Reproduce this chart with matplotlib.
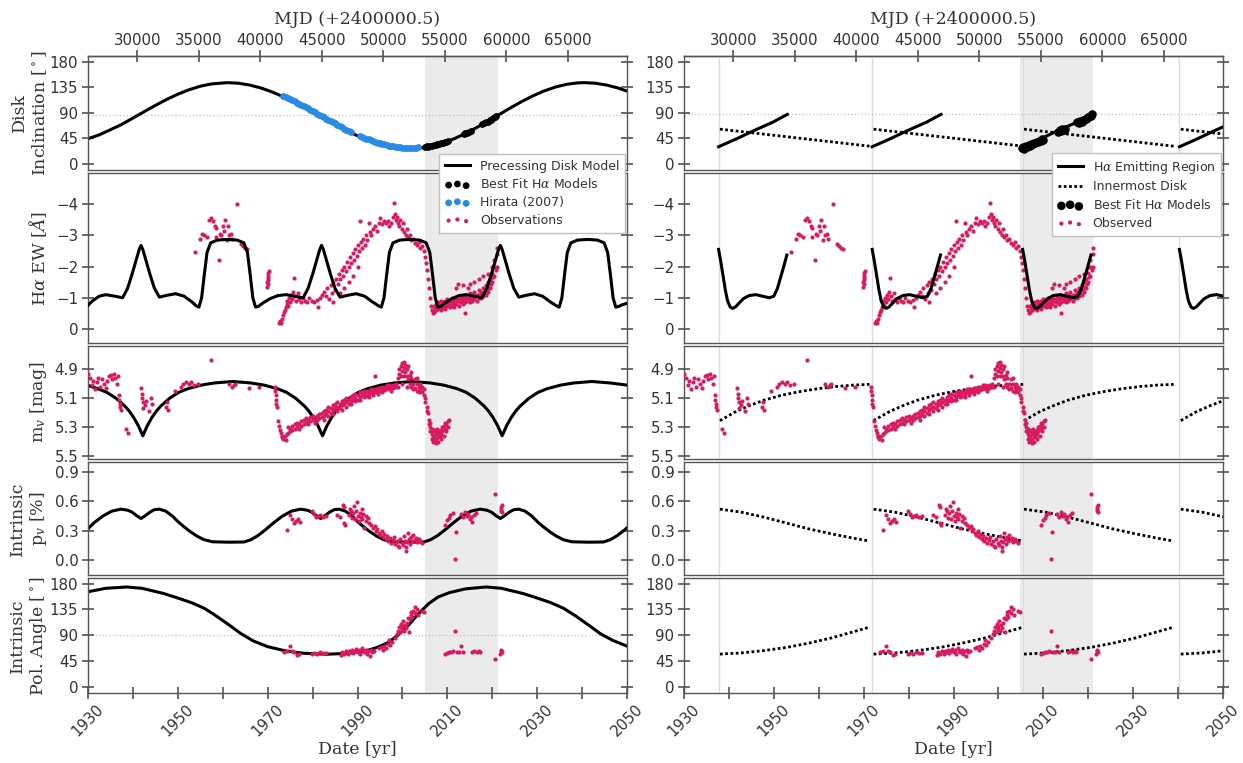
import matplotlib
matplotlib.use("Agg")
import matplotlib.pyplot as plt
from matplotlib.ticker import FixedLocator

plt.rcParams.update({
    "font.family": ["DejaVu Sans"],
    "mathtext.fontset": "dejavuserif",
    "axes.linewidth": 1.0,
    "axes.edgecolor": "#555555",
    "xtick.color": "#444444",
    "ytick.color": "#444444",
    "xtick.labelcolor": "#333333",
    "ytick.labelcolor": "#333333",
})

# ---------------------------------------------------------------- data
# Precessing disk model (left column)
incl_yr = [1930, 1932.5, 1935, 1937.5, 1940, 1942.5, 1945, 1947.5, 1950, 1952.5, 1955, 1957.5, 1961,
           1963.5, 1966, 1968.5, 1971, 1973.5, 1976, 1978.5, 1981, 1983.5, 1986, 1988.5, 1991, 1993.5,
           1996, 1998.5, 2001.8, 2004, 2006.5, 2009, 2011.5, 2014, 2016.5, 2019, 2021.5, 2024, 2026.5,
           2029, 2031.5, 2034, 2036.5, 2039, 2040.5, 2043, 2045.5, 2048, 2050]
incl_deg = [44, 51, 60, 69.3, 80.5, 91.8, 102.9, 113.3, 122.7, 130.5, 136.7, 140.8, 143,
            142.0, 138.7, 133.6, 126.6, 118.1, 108.4, 97.9, 86.8, 75.6, 64.9, 54.8, 45.9, 38.4,
            32.7, 28.9, 27.0, 27.9, 31.2, 36.6, 44.1, 53.2, 63.7, 74.9, 86.6, 98.3, 109.4,
            119.5, 128.2, 135.1, 140.0, 142.6, 143.0, 142.0, 138.7, 133.6, 128.2]

ew_yr = [1930.0, 1931.0, 1932.5, 1934.0, 1936.0, 1937.7,
         1938.8, 1939.8, 1940.8, 1941.4, 1941.8, 1942.2, 1942.8, 1943.8, 1944.8, 1945.9,
         1947.6, 1949.5, 1951.4, 1953.2, 1954.1,
         1954.7, 1955.3, 1955.9, 1956.5, 1957.3, 1958.8, 1961.0, 1963.2, 1964.7, 1965.5, 1966.1, 1966.7, 1967.3, 1967.9,
         1968.8, 1970.5, 1972.3, 1974.1, 1976.0, 1977.9,
         1979.0, 1980.0, 1981.0, 1981.6, 1982.0, 1982.4, 1983.0, 1984.0, 1985.0, 1986.1,
         1987.8, 1989.7, 1991.6, 1993.4, 1994.7,
         1995.3, 1995.9, 1996.5, 1997.1, 1997.9, 1999.4, 2001.6, 2003.8, 2005.3, 2006.1, 2006.7, 2007.3, 2007.9, 2008.5,
         2009.4, 2011.0, 2012.6, 2014.2, 2016.0, 2017.7,
         2018.8, 2019.8, 2020.8, 2021.4, 2021.8, 2022.2, 2022.8, 2023.8, 2024.8, 2025.9,
         2027.6, 2029.4, 2031.2, 2033.0, 2034.3,
         2034.9, 2035.5, 2036.1, 2036.7, 2037.5, 2039.0, 2041.2, 2043.4, 2044.9, 2045.7, 2046.3, 2046.9, 2047.5, 2048.1,
         2049.0, 2050.0]
ew_val = [-0.76, -0.90, -1.05, -1.10, -1.05, -1.00,
          -1.3, -1.75, -2.25, -2.55, -2.68, -2.55, -2.25, -1.75, -1.3, -1.02,
          -1.08, -1.13, -1.05, -0.86, -0.74,
          -0.70, -1.0, -1.75, -2.45, -2.76, -2.85, -2.87, -2.85, -2.76, -2.45, -1.75, -1.0, -0.70, -0.72,
          -0.82, -0.97, -1.07, -1.10, -1.05, -1.00,
          -1.3, -1.75, -2.25, -2.55, -2.68, -2.55, -2.25, -1.75, -1.3, -1.02,
          -1.08, -1.13, -1.05, -0.86, -0.74,
          -0.70, -1.0, -1.75, -2.45, -2.76, -2.85, -2.87, -2.85, -2.76, -2.45, -1.75, -1.0, -0.70, -0.72,
          -0.82, -0.97, -1.07, -1.10, -1.05, -1.00,
          -1.3, -1.75, -2.25, -2.55, -2.68, -2.55, -2.25, -1.75, -1.3, -1.02,
          -1.08, -1.13, -1.05, -0.86, -0.74,
          -0.70, -1.0, -1.75, -2.45, -2.76, -2.85, -2.87, -2.85, -2.76, -2.45, -1.75, -1.0, -0.70, -0.72,
          -0.78, -0.82]

mv_yr = [1930, 1932.2, 1934.2, 1936.2, 1938.2, 1939.2, 1940.2, 1941.2, 1941.7, 1942.2, 1942.7, 1943.2,
         1944.2, 1945.2, 1946.2, 1948.2, 1950.2, 1952.2, 1955.2, 1958.2, 1962.2, 1966.2, 1969.2, 1972.2,
         1974.2, 1976.2, 1978.2, 1979.2, 1980.2, 1981.2, 1981.7, 1982.2, 1982.7, 1983.2, 1984.2, 1985.2,
         1986.2, 1988.2, 1990.2, 1992.2, 1995.2, 1998.2, 2002.2, 2006.2, 2009.2, 2012.2, 2014.2, 2016.2,
         2018.2, 2019.2, 2020.2, 2021.2, 2021.7, 2022.2, 2022.7, 2023.2, 2024.2, 2025.2, 2026.2, 2028.2,
         2030.2, 2032.2, 2035.2, 2038.2, 2042.2, 2046.2, 2050.0]
mv_mag = [5.012, 5.035, 5.06, 5.10, 5.155, 5.19, 5.235, 5.29, 5.325, 5.36, 5.325, 5.29,
          5.235, 5.19, 5.155, 5.10, 5.06, 5.035, 5.01, 4.995, 4.985, 4.995, 5.01, 5.035,
          5.06, 5.10, 5.155, 5.19, 5.235, 5.29, 5.325, 5.36, 5.325, 5.29, 5.235, 5.19,
          5.155, 5.10, 5.06, 5.035, 5.01, 4.995, 4.985, 4.995, 5.01, 5.035, 5.06, 5.10,
          5.155, 5.19, 5.235, 5.29, 5.325, 5.36, 5.325, 5.29, 5.235, 5.19, 5.155, 5.10,
          5.06, 5.035, 5.01, 4.995, 4.985, 4.995, 5.01]

pv_yr = [1930.0, 1931.3, 1933.3, 1935.3, 1937.3, 1938.8, 1939.8, 1940.8, 1941.8, 1942.8, 1943.8, 1944.8,
         1945.9, 1947.3, 1948.8, 1950.1, 1951.4, 1952.8, 1954.3, 1955.8, 1957.7, 1961.3, 1964.8, 1966.3,
         1967.8, 1969.5, 1971.3, 1973.3, 1975.3, 1977.3, 1978.8, 1979.8, 1980.8, 1981.8, 1982.8, 1983.8,
         1984.8, 1985.9, 1987.3, 1988.8, 1990.1, 1991.4, 1992.8, 1994.3, 1995.8, 1997.7, 2001.3, 2004.8,
         2006.3, 2007.8, 2009.5, 2011.3, 2013.3, 2015.3, 2017.3, 2018.8, 2019.8, 2020.8, 2021.8, 2022.8,
         2023.8, 2024.8, 2025.9, 2027.3, 2028.8, 2030.1, 2031.4, 2032.8, 2034.3, 2035.8, 2037.7, 2041.3,
         2044.8, 2046.3, 2047.8, 2049.5, 2050.0]
pv_pct = [0.32, 0.38, 0.45, 0.50, 0.52, 0.51, 0.49, 0.455, 0.425, 0.455, 0.49, 0.515,
          0.52, 0.50, 0.45, 0.39, 0.34, 0.29, 0.245, 0.21, 0.188, 0.184, 0.186, 0.21,
          0.25, 0.31, 0.38, 0.45, 0.50, 0.52, 0.51, 0.49, 0.455, 0.425, 0.455, 0.49,
          0.515, 0.52, 0.50, 0.45, 0.39, 0.34, 0.29, 0.245, 0.21, 0.188, 0.184, 0.186,
          0.21, 0.25, 0.31, 0.38, 0.45, 0.50, 0.52, 0.51, 0.49, 0.455, 0.425, 0.455,
          0.49, 0.515, 0.52, 0.50, 0.45, 0.39, 0.34, 0.29, 0.245, 0.21, 0.188, 0.184,
          0.186, 0.21, 0.25, 0.31, 0.33]

pa_yr = [1930, 1934, 1938.6, 1942, 1946.8, 1950, 1953, 1955.9, 1958.5, 1961.4, 1964, 1966.8, 1970, 1974,
         1978, 1983.2, 1988, 1992.3, 1994.5, 1996.8, 1999, 2001.4, 2003.5, 2005.9, 2008, 2010.5, 2014,
         2018.6, 2022, 2026.8, 2030, 2033, 2035.9, 2038.5, 2041.4, 2044, 2046.8, 2050]
pa_deg = [166, 172, 174.3, 172, 163, 155, 147, 137, 124, 108, 93, 80, 70, 62.5,
          58.5, 56.7, 58.5, 63.6, 69, 77, 90, 108, 127, 145.6, 157, 164.5, 171,
          174.3, 172, 163, 155, 147, 137, 124, 108, 93, 81, 71]

# Best-fit H-alpha disk models and Hirata (2007) inclinations
fit_left_yr = [2005.0, 2005.4, 2005.8, 2006.2, 2006.6, 2007.0, 2007.4, 2007.8, 2008.2, 2008.6, 2009.0,
               2009.4, 2009.8, 2010.2, 2013.6, 2014.0, 2014.4, 2014.8, 2015.2, 2017.8, 2018.2, 2018.6,
               2019.0, 2019.4, 2019.8, 2020.2, 2020.6, 2020.9]
fit_left_deg = [29.0, 30.5, 29.5, 31.5, 30.8, 33.0, 32.2, 34.5, 34.0, 36.2, 36.0,
                38.3, 38.0, 40.5, 52.5, 54.0, 54.5, 56.8, 58.0, 70.0, 71.0, 73.5,
                74.5, 76.8, 78.0, 80.5, 82.0, 84.5]
hirata_yr = [1973.5, 1974.0, 1974.5, 1975.0, 1975.5, 1976.0, 1976.5, 1977.0, 1977.5, 1978.0, 1978.5,
             1979.0, 1979.5, 1980.0, 1980.5, 1981.0, 1981.5, 1982.0, 1982.5, 1983.0, 1983.5, 1984.0,
             1984.5, 1985.0, 1985.5, 1986.0, 1986.5, 1987.0, 1987.5, 1988.0, 1988.5,
             1990.5, 1991.0, 1991.5, 1992.0, 1992.5, 1993.0, 1993.5, 1994.0, 1994.5, 1995.0, 1995.5,
             1996.0, 1996.5, 1997.0, 1997.5, 1998.0, 1998.5, 1999.0, 1999.5, 2000.0, 2000.5, 2001.0,
             2001.5, 2002.0, 2002.5, 2003.0, 2003.5]
hirata_deg = [120, 118, 116, 114, 112, 110, 108, 106, 104, 102, 100,
              97.5, 95, 93, 91, 88.5, 86, 84, 82, 79.5, 77, 75,
              73, 71, 69, 66.5, 64, 62, 60, 58, 56,
              49, 47.5, 46, 44.5, 43, 41.5, 40, 38.5, 37, 36, 35,
              34, 33, 32, 31, 30.5, 30, 29.5, 29, 28.5, 28, 28,
              28, 28, 28, 28.5, 29]

# Cycle-by-cycle model (right column): cycle start epochs and per-cycle shapes
cycle_start = [1937.7, 1971.9, 2005.4, 2040.3]
ramp_off = [0, 4, 8, 12, 15.3]
ramp_deg = [30, 44, 59, 73, 87]
inner_off = [0.3, 17, 33.6]
inner_deg = [61, 46, 31]
ewc_off = [0, 0.5, 1.0, 1.5, 2.0, 2.6, 3.1, 3.7, 4.5, 5.5, 6.8, 8.3, 9.8, 11.3, 12.3, 13.1, 13.8, 14.5, 15.2]
ewc_val = [-2.55, -2.15, -1.7, -1.25, -0.9, -0.7, -0.66, -0.7, -0.82, -0.97, -1.07, -1.10, -1.05,
           -1.0, -1.05, -1.3, -1.65, -2.0, -2.37]
mvc_off = [0.3, 2, 4, 7, 10, 14, 18, 22, 26, 30, 33.6]
mvc_mag = [5.255, 5.225, 5.19, 5.15, 5.115, 5.08, 5.055, 5.035, 5.02, 5.01, 5.005]
pvc_off = [0.3, 5, 10, 15, 20, 25, 30, 33.6]
pvc_pct = [0.52, 0.49, 0.44, 0.38, 0.32, 0.27, 0.225, 0.195]
pac_off = [0.3, 5, 10, 15, 20, 25, 30, 33.6]
pac_deg = [57, 59, 63, 68.5, 76, 85, 96, 104]

fit_right_yr = [2005.2, 2005.5, 2005.8, 2006.1, 2006.4, 2006.7, 2007.0, 2007.3, 2007.6, 2007.9, 2008.2,
                2008.5, 2008.8, 2009.1, 2009.4, 2009.7, 2010.0, 2013.3, 2013.6, 2013.9, 2014.2, 2014.5,
                2014.8, 2017.6, 2017.9, 2018.2, 2018.5, 2018.8, 2019.1, 2019.4, 2019.7, 2020.0, 2020.3,
                2020.6, 2020.9]
fit_right_deg = [27, 29, 26, 31, 29, 33, 31, 35, 34, 37, 36,
                 39, 38, 41, 40, 43, 42, 56, 59, 58, 61, 60,
                 62, 73, 72, 75, 74, 77, 78, 79, 81, 82, 84,
                 85, 87]

# Observations
ew_obs_yr = [1953.9, 1955.0, 1955.3, 1955.9, 1956.5, 1957.0, 1957.4, 1957.8, 1958.2, 1958.4, 1958.6, 1959.1,
             1959.3, 1959.6, 1960.0, 1960.3, 1960.6, 1960.9, 1961.2, 1961.5, 1961.8, 1962.1, 1963.2, 1964.0,
             1964.4, 1964.9, 1965.4,
             1969.9, 1969.9, 1970.0, 1970.0, 1970.0, 1970.1, 1970.1, 1970.2,
             1972.5, 1972.8, 1973.0, 1973.2, 1973.4, 1973.6, 1973.8, 1974.0, 1974.2, 1974.4, 1974.6, 1974.8,
             1975.0, 1975.2, 1975.4, 1975.6, 1975.9, 1976.1, 1976.4, 1976.7, 1977.0, 1977.4, 1977.8, 1978.3,
             1978.8, 1979.3, 1979.8, 1980.4, 1981.0, 1981.2, 1981.7, 1982.2, 1982.6, 1983.0, 1983.3, 1983.6,
             1984.0, 1984.3, 1984.6, 1985.0, 1984.5, 1986.0, 1987.0, 1988.0, 1989.0, 1990.0,
             1985.3, 1985.6, 1985.9, 1986.2, 1986.5, 1986.8, 1987.1, 1987.4, 1987.7, 1988.0, 1988.3, 1988.6,
             1988.9, 1989.2, 1989.5, 1989.8, 1990.1, 1990.4, 1990.5, 1990.7, 1991.0, 1991.3, 1991.6, 1991.9,
             1992.2, 1992.5, 1992.8, 1993.1, 1993.5, 1993.9, 1994.3, 1994.7, 1995.1, 1995.5, 1995.9, 1996.3,
             1996.7, 1997.1, 1997.5, 1997.9, 1998.2, 1998.4, 1998.6, 1998.8, 1999.0, 1999.2, 1999.5, 1999.8,
             2000.1, 2000.4, 2000.7, 2001.0, 2001.3, 2001.6, 2002.0, 2002.4, 2002.8, 2003.2, 2003.6, 2004.0,
             2004.4, 2004.8, 2005.1, 2005.3, 2005.5, 2005.7, 2005.9, 2006.1, 2006.3, 2006.5, 2006.7,
             2007.0, 2007.0, 2007.5, 2007.5, 2007.5, 2008.0, 2008.0, 2008.5, 2008.5, 2008.5, 2009.0, 2009.0,
             2009.5, 2009.5, 2009.5, 2010.0, 2010.0, 2010.5, 2010.5, 2010.5, 2011.0, 2011.0, 2011.5, 2011.5,
             2011.5, 2012.0, 2012.0, 2012.0, 2012.3, 2012.5, 2012.5, 2013.0, 2013.0, 2013.5, 2013.5, 2013.5,
             2014.0, 2014.0, 2014.0, 2014.5, 2014.5, 2014.5, 2015.0, 2015.0, 2015.0, 2015.5, 2015.5, 2016.0,
             2016.0, 2016.0, 2016.5, 2016.5, 2017.0, 2017.0, 2017.0, 2017.5, 2017.5, 2018.0, 2018.0, 2018.0,
             2018.5, 2018.5, 2019.0, 2019.0, 2019.0, 2019.5, 2019.5, 2020.0, 2020.0, 2020.0, 2020.5, 2020.5,
             2020.5, 2021.0, 2021.0, 2021.0,
             2007.25, 2007.75, 2008.25, 2008.75, 2009.25, 2009.75, 2010.25, 2010.75, 2011.25, 2011.75,
             2012.25, 2012.75, 2013.25, 2013.75, 2014.25, 2014.75, 2015.25, 2015.75, 2016.25, 2016.75,
             2017.25, 2017.75, 2018.25, 2018.75, 2019.25, 2019.75, 2020.25, 2020.75]
ew_obs_val = [-2.46, -2.90, -3.05, -3.00, -2.95, -3.50, -3.55, -3.45, -3.30, -2.95, -3.25, -2.22,
              -3.05, -3.00, -3.30, -3.15, -3.50, -2.85, -3.30, -3.00, -3.05, -2.90, -4.00, -2.72,
              -2.66, -2.60, -2.56,
              -1.35, -1.50, -1.45, -1.58, -1.70, -1.63, -1.78, -1.86,
              -0.20, -0.25, -0.20, -0.33, -0.45, -0.55, -0.62, -0.70, -0.80, -0.90, -0.75, -1.00,
              -0.85, -1.10, -0.95, -1.20, -1.62, -1.05, -0.90, -1.15, -0.95, -0.85, -1.00, -0.90,
              -0.88, -1.00, -0.90, -0.85, -0.92, -0.70, -1.00, -1.10, -1.20, -1.05, -1.30, -0.95,
              -1.40, -1.15, -1.50, -1.25, -0.85, -1.15, -1.30, -1.50, -1.70, -2.00,
              -1.60, -1.45, -1.75, -1.60, -1.90, -1.70, -2.00, -1.85, -2.15, -2.00, -2.30, -2.10,
              -2.45, -2.20, -2.55, -2.35, -2.70, -2.50, -3.45, -2.80, -2.60, -2.90, -2.70, -3.00,
              -2.85, -3.40, -3.10, -3.00, -3.20, -3.30, -3.15, -3.40, -3.55, -3.35, -3.45, -3.40,
              -3.45, -3.30, -3.40, -3.60, -4.05, -3.70, -3.50, -3.60, -3.40, -3.30, -3.50, -3.20,
              -3.40, -3.10, -3.00, -3.20, -2.95, -3.00, -2.85, -2.90, -2.75, -2.70, -2.80, -2.60,
              -2.65, -2.50, -2.30, -2.10, -1.90, -1.60, -1.30, -1.00, -0.75, -0.60, -0.50,
              -0.55, -0.75, -0.60, -0.80, -0.65, -0.65, -0.85, -0.70, -0.90, -0.60, -0.70, -0.85,
              -0.65, -0.90, -0.75, -0.75, -0.95, -0.70, -0.90, -0.80, -0.75, -1.00, -0.80, -0.95,
              -0.70, -0.80, -1.00, -1.30, -1.44, -0.75, -0.95, -0.85, -1.05, -0.80, -1.00, -1.40,
              -0.85, -1.10, -0.52, -0.90, -1.00, -1.30, -0.85, -1.15, -1.45, -0.90, -1.10, -0.95,
              -1.20, -1.50, -0.90, -1.10, -1.00, -1.25, -1.60, -1.00, -1.20, -1.05, -1.30, -1.70,
              -1.10, -1.40, -1.20, -1.50, -1.75, -1.30, -1.60, -1.50, -1.80, -2.00, -1.70, -2.00,
              -2.20, -2.00, -2.40, -2.60,
              -0.70, -0.72, -0.78, -0.80, -0.78, -0.82, -0.85, -0.85, -0.88, -0.90,
              -0.90, -0.88, -0.92, -0.95, -0.98, -0.95, -1.00, -1.02, -1.05, -1.08,
              -1.10, -1.15, -1.20, -1.25, -1.35, -1.45, -1.65, -1.90]

mv_obs_yr = [1930.1, 1930.4, 1930.8, 1931.2, 1931.5, 1931.9, 1932.3, 1932.7, 1933.1, 1933.5, 1933.9, 1934.3,
             1934.7, 1935.1, 1935.4, 1935.8, 1936.1, 1936.4, 1936.7, 1936.9, 1937.0, 1937.1, 1937.2, 1937.3,
             1938.4, 1938.8, 1941.9, 1942.0, 1942.1, 1942.2, 1942.3, 1942.6, 1942.9, 1943.6, 1944.0, 1944.2,
             1947.3, 1947.6, 1947.9, 1949.4, 1950.6, 1951.2, 1951.8, 1952.4, 1953.0, 1953.6, 1954.4, 1957.4,
             1961.5, 1962.0, 1962.4, 1962.8, 1965.8, 1968.0,
             1971.6, 1971.7, 1971.8, 1971.9, 1971.9, 1972.0, 1972.3, 1972.5, 1972.7, 1972.9, 1973.1, 1973.3,
             1973.5, 1973.8, 1974.0, 1974.3,
             1974.5, 1974.5, 1975.0, 1975.0, 1975.5, 1975.5, 1976.0, 1976.0, 1976.5, 1976.5, 1977.0, 1977.0,
             1977.5, 1977.5, 1978.0, 1978.0, 1978.5, 1978.5, 1979.0, 1979.0, 1979.5, 1979.5, 1980.0, 1980.0,
             1980.5, 1980.5, 1981.0, 1981.0, 1981.5, 1981.5, 1982.0, 1982.0, 1982.5, 1982.5, 1982.5, 1983.0,
             1983.0, 1983.5, 1983.5, 1983.5, 1984.0, 1984.0, 1984.5, 1984.5, 1984.5, 1985.0, 1985.0, 1985.5,
             1985.5, 1985.5, 1986.0, 1986.0, 1986.5, 1986.5, 1986.5, 1987.0, 1987.0, 1987.5, 1987.5, 1987.5,
             1988.0, 1988.0, 1988.5, 1988.5, 1988.5, 1989.0, 1989.0, 1989.5, 1989.5, 1989.5, 1990.0, 1990.0,
             1990.5, 1990.5, 1990.5, 1991.0, 1991.0, 1991.5, 1991.5, 1991.5, 1992.0, 1992.0, 1992.5, 1992.5,
             1992.5, 1993.0, 1993.0, 1993.5, 1993.5, 1993.5, 1994.0, 1994.0, 1994.0, 1994.5, 1994.5, 1994.5,
             1995.0, 1995.0, 1995.5, 1995.5, 1995.5, 1996.0, 1996.0, 1996.5, 1996.5, 1996.5, 1997.0, 1997.0,
             1997.5, 1997.5, 1997.5, 1998.0, 1998.0, 1998.5, 1998.5, 1999.0, 1999.0, 1999.3, 1999.3, 1999.6,
             1999.6, 2000.0, 2000.0, 2000.0, 2000.3, 2000.3, 2000.3, 2000.6, 2000.6, 2001.0, 2001.0, 2001.0,
             2001.3, 2001.3, 2001.6, 2001.6, 2002.0, 2002.0, 2002.0, 2002.4, 2002.4, 2002.8, 2002.8, 2003.2,
             2003.2, 2003.2, 2003.6, 2003.6, 2004.0, 2004.0, 2004.4, 2004.4, 2004.8, 2004.8, 2005.1, 2005.1,
             2005.4, 2005.4, 2005.6,
             2005.9, 2005.9, 2006.2, 2006.2, 2006.2, 2006.5, 2006.5, 2006.5, 2006.8, 2006.8, 2006.8, 2007.1,
             2007.1, 2007.1, 2007.4, 2007.4, 2007.4, 2007.7, 2007.7, 2008.0, 2008.0, 2008.0, 2008.3, 2008.3,
             2008.6, 2008.6, 2008.6, 2008.9, 2008.9, 2009.2, 2009.2, 2009.5, 2009.5, 2009.8, 2009.8, 2010.1,
             2010.1, 2010.3]
mv_obs_mag = [4.93, 4.96, 5.01, 4.98, 5.04, 4.99, 4.96, 5.02, 4.97, 5.00, 5.03, 4.98,
              4.95, 4.94, 4.97, 4.93, 4.96, 5.00, 4.95, 5.08, 5.11, 5.14, 5.16, 5.18,
              5.31, 5.34, 5.03, 5.07, 5.10, 5.13, 5.17, 5.15, 5.12, 5.19, 5.10, 5.14,
              5.16, 5.13, 5.18, 5.05, 5.02, 5.00, 4.99, 5.00, 4.99, 5.01, 5.00, 4.84,
              5.00, 5.02, 5.01, 5.00, 5.03, 5.02,
              5.02, 5.05, 5.08, 5.11, 5.14, 5.16, 5.26, 5.29, 5.32, 5.34, 5.36, 5.37,
              5.38, 5.36, 5.39, 5.35,
              5.34, 5.30, 5.31, 5.33, 5.29, 5.32, 5.31, 5.28, 5.30, 5.27, 5.28, 5.31,
              5.26, 5.29, 5.28, 5.25, 5.27, 5.24, 5.25, 5.28, 5.23, 5.26, 5.25, 5.22,
              5.24, 5.27, 5.22, 5.25, 5.21, 5.24, 5.23, 5.20, 5.22, 5.19, 5.25, 5.21,
              5.18, 5.19, 5.22, 5.16, 5.20, 5.17, 5.18, 5.21, 5.15, 5.17, 5.14, 5.16,
              5.19, 5.13, 5.17, 5.14, 5.15, 5.12, 5.18, 5.14, 5.11, 5.13, 5.16, 5.10,
              5.14, 5.11, 5.12, 5.09, 5.14, 5.11, 5.08, 5.10, 5.12, 5.07, 5.11, 5.08,
              5.09, 5.06, 5.11, 5.08, 5.06, 5.07, 5.09, 5.05, 5.085, 5.06, 5.07, 5.05,
              5.09, 5.06, 5.04, 5.065, 5.045, 5.08, 5.06, 5.04, 4.95, 5.05, 5.03, 5.07,
              5.05, 5.03, 5.04, 5.02, 5.06, 5.045, 5.025, 5.04, 5.02, 5.01, 5.03, 5.01,
              5.035, 5.015, 5.05, 5.03, 5.01, 5.02, 5.00, 5.02, 4.96, 4.93, 4.90, 4.95,
              4.88, 4.91, 4.86, 5.00, 4.89, 4.95, 4.85, 4.92, 4.87, 4.95, 4.90, 5.02,
              4.88, 4.97, 4.94, 5.00, 4.96, 5.02, 4.92, 5.00, 5.04, 4.97, 5.03, 5.00,
              5.05, 4.96, 5.02, 5.06, 5.04, 5.00, 5.06, 5.02, 5.08, 5.04, 5.10, 5.13,
              5.16, 5.19, 5.20,
              5.25, 5.28, 5.30, 5.33, 5.27, 5.35, 5.31, 5.38, 5.33, 5.37, 5.40, 5.36,
              5.32, 5.39, 5.34, 5.38, 5.41, 5.35, 5.31, 5.37, 5.33, 5.40, 5.34, 5.36,
              5.38, 5.32, 5.35, 5.33, 5.30, 5.36, 5.29, 5.31, 5.27, 5.28, 5.33, 5.26,
              5.30, 5.25]

pv_obs_yr = [1974.3, 1975.0, 1975.5, 1975.9, 1976.3, 1976.8, 1977.2, 1979.8, 1980.4, 1980.8, 1981.2, 1981.7,
             1982.3, 1983.0, 1985.5, 1986.0, 1986.8, 1987.0, 1987.1, 1987.3, 1988.0, 1988.3, 1988.6, 1988.8,
             1989.0, 1989.2, 1989.4, 1989.6, 1989.9, 1990.1, 1990.3, 1990.5, 1990.7, 1990.9, 1991.1, 1991.3,
             1991.5, 1991.8, 1992.0, 1992.3, 1992.6, 1993.0, 1993.4, 1993.8, 1994.1, 1994.4, 1994.8, 1995.1,
             1995.4, 1995.7, 1996.0, 1996.3, 1996.6, 1996.9, 1997.2, 1997.5, 1997.8, 1998.1, 1998.4, 1998.7,
             1999.0, 1999.3, 1999.5, 1999.8, 2000.1, 2000.3, 2000.5, 2000.7, 2000.9, 2001.1, 2001.3, 2001.5,
             2001.7, 2001.9, 2002.1, 2002.4, 2002.7, 2003.0, 2003.3, 2003.6, 2004.0, 2004.4,
             2009.4, 2009.9, 2010.3, 2010.7, 2011.2, 2011.7, 2012.0, 2013.0, 2013.5, 2014.0, 2014.3, 2014.6,
             2015.0, 2015.3, 2015.6, 2016.0, 2016.4, 2020.6, 2021.9, 2022.0, 2022.0, 2022.1, 2022.1]
pv_obs_pct = [0.31, 0.46, 0.42, 0.375, 0.40, 0.425, 0.39, 0.50, 0.47, 0.44, 0.45, 0.46,
              0.44, 0.45, 0.46, 0.44, 0.56, 0.54, 0.38, 0.36, 0.46, 0.52, 0.50, 0.43,
              0.48, 0.55, 0.42, 0.50, 0.59, 0.45, 0.40, 0.48, 0.44, 0.52, 0.42, 0.47,
              0.33, 0.45, 0.40, 0.43, 0.38, 0.36, 0.33, 0.35, 0.30, 0.32, 0.28, 0.26,
              0.30, 0.24, 0.27, 0.22, 0.25, 0.20, 0.23, 0.18, 0.21, 0.24, 0.17, 0.20,
              0.15, 0.13, 0.22, 0.18, 0.16, 0.25, 0.20, 0.09, 0.14, 0.19, 0.28, 0.22,
              0.17, 0.24, 0.20, 0.26, 0.21, 0.23, 0.19, 0.22, 0.20, 0.18,
              0.36, 0.41, 0.43, 0.46, 0.48, 0.01, 0.29, 0.47, 0.44, 0.49, 0.45, 0.47,
              0.42, 0.44, 0.39, 0.46, 0.48, 0.67, 0.50, 0.52, 0.54, 0.56, 0.49]

pa_obs_yr = [1973.6, 1974.3, 1974.9, 1975.4, 1975.9, 1976.5, 1977.0, 1979.8, 1980.4, 1981.0, 1981.6, 1982.4,
             1983.0, 1986.4, 1986.6, 1987.0, 1987.4, 1987.8, 1988.2, 1988.5, 1988.8, 1989.1, 1989.4, 1989.7,
             1990.0, 1990.3, 1990.6, 1990.9, 1991.2, 1991.5, 1991.8, 1992.1, 1992.4, 1992.7, 1993.0, 1993.3,
             1993.6, 1994.8, 1995.2, 1995.6, 1996.0, 1996.4, 1996.8, 1997.0, 1997.3, 1997.6, 1998.4, 1998.8,
             1999.0, 1999.2, 1999.4, 1999.6, 1999.8, 2000.0, 2000.2, 2000.4, 2000.6, 2000.8, 2001.0, 2001.2,
             2001.4, 2001.6, 2001.8, 2002.0, 2002.2, 2002.4, 2002.7, 2002.9, 2003.2, 2003.5, 2004.3, 2004.8,
             2009.5, 2010.0, 2010.4, 2010.9, 2011.3, 2011.7, 2012.1, 2012.6, 2013.0, 2013.4, 2015.6, 2016.0,
             2016.5, 2017.0, 2017.3, 2020.6, 2021.8, 2021.9, 2022.0, 2022.1]
pa_obs_deg = [60, 62, 71, 63, 60, 55, 57, 58, 59, 57.5, 60, 58.5,
              59, 55, 61, 58, 63, 57, 62, 60, 65, 59, 63, 66,
              61, 64, 58, 67, 62, 60, 64, 57, 62, 54, 65, 60,
              63, 67, 70, 65, 72, 68, 75, 82, 73, 78, 86, 92,
              98, 104, 95, 110, 100, 106, 114, 97, 108, 102, 112, 120,
              96, 118, 125, 130, 122, 133, 128, 140, 135, 126, 132, 130,
              57, 59, 61, 60, 62, 97, 61, 60, 71, 61, 60, 62,
              61, 63, 60, 49, 58, 62, 65, 60]

# ---------------------------------------------------------------- styling
W, H = 1243, 763
OBS_C = "#d81b60"
HIRATA_C = "#2a8be6"
SERIF = "DejaVu Serif"
LABEL_KW = dict(fontsize=12.5, family=SERIF, color="#333333")

fig = plt.figure(figsize=(W / 100, H / 100), dpi=100)
rows_px = [(56, 170), (173, 343), (346, 459), (462, 575), (578, 693)]
cols_px = [(88, 627), (684, 1223)]


def rect(col, row):
    x0, x1 = col
    y0, y1 = row
    return [x0 / W, 1 - y1 / H, (x1 - x0) / W, (y1 - y0) / H]


axes = [[fig.add_axes(rect(c, r)) for r in rows_px] for c in cols_px]

ylims = [(-11, 190), (0.45, -5.0), (5.52, 4.74), (-0.15, 1.0), (-11, 190)]
yticks = [[0, 45, 90, 135, 180], [-4, -3, -2, -1, 0], [4.9, 5.1, 5.3, 5.5],
          [0.0, 0.3, 0.6, 0.9], [0, 45, 90, 135, 180]]
ylabels = ["Disk\nInclination [$^\\circ$]", "H$\\alpha$ EW [$\\AA$]", "m$_v$ [mag]",
           "Intrinsic\np$_v$ [%]", "Intrinsic\nPol. Angle [$^\\circ$]"]

band = {0: (2005.0, 2021.2), 1: (2004.8, 2021.0)}

for ci, col in enumerate(axes):
    for ri, ax in enumerate(col):
        ax.set_xlim(1930, 2050)
        ax.set_ylim(*ylims[ri])
        ax.yaxis.set_major_locator(FixedLocator(yticks[ri]))
        ax.tick_params(axis="y", direction="inout", length=8, width=1.1,
                       left=True, right=True, labelsize=10.8, pad=3)
        ax.tick_params(axis="x", which="both", bottom=False, top=False, labelbottom=False)
        ax.axvspan(*band[ci], color="#ebebeb", lw=0, zorder=0)
        if ci == 1:
            for t in cycle_start:
                ax.axvline(t, color="#dcdcdc", lw=1.0, zorder=0.5)
        if ci == 0:
            ax.set_ylabel(ylabels[ri], linespacing=1.1, **LABEL_KW)
            ax.yaxis.set_label_coords(-0.073, 0.5)
    bot = col[-1]
    bot.xaxis.set_major_locator(FixedLocator(range(1930, 2051, 20)))
    bot.xaxis.set_minor_locator(FixedLocator(range(1940, 2050, 20)))
    bot.tick_params(axis="x", which="both", bottom=True, labelbottom=True, direction="inout",
                    length=8, width=1.1, labelsize=10.8, labelrotation=45, pad=2)
    top = col[0]
    sec = top.secondary_xaxis("top", functions=(lambda y: 51544.5 + (y - 2000.0) * 365.25,
                                                lambda m: 2000.0 + (m - 51544.5) / 365.25))
    sec.xaxis.set_major_locator(FixedLocator(range(30000, 65001, 5000)))
    sec.tick_params(direction="inout", length=8, width=1.1, labelsize=10.8, pad=2)
    x_mid = (cols_px[ci][0] + cols_px[ci][1]) / 2 / W
    fig.text(x_mid, 1 - 20 / H, "MJD (+2400000.5)", ha="center", va="center", **LABEL_KW)
    fig.text(x_mid, 1 - 749 / H, "Date [yr]", ha="center", va="center", **LABEL_KW)

# ---------------------------------------------------------------- left column
L = axes[0]
L[0].axhline(86.5, color="#c8c8c8", lw=1.0, ls=(0, (1, 1.5)), zorder=0.6)
L[4].axhline(90, color="#c8c8c8", lw=1.0, ls=(0, (1, 1.5)), zorder=0.6)
ln_model, = L[0].plot(incl_yr, incl_deg, color="black", lw=2.2, zorder=2)
sc_hir = L[0].scatter(hirata_yr, hirata_deg, s=24, color=HIRATA_C, lw=0, zorder=3)
sc_fit = L[0].scatter(fit_left_yr, fit_left_deg, s=24, color="black", lw=0, zorder=4)

sc_obs = L[1].scatter(ew_obs_yr, ew_obs_val, s=9, color=OBS_C, lw=0, zorder=2)
L[1].plot(ew_yr, ew_val, color="black", lw=2.2, zorder=3)
L[2].plot(mv_yr, mv_mag, color="black", lw=2.2, zorder=2)
L[2].scatter(mv_obs_yr, mv_obs_mag, s=9, color=OBS_C, lw=0, zorder=3)
L[3].plot(pv_yr, pv_pct, color="black", lw=2.2, zorder=2)
L[3].scatter(pv_obs_yr, pv_obs_pct, s=9, color=OBS_C, lw=0, zorder=3)
L[4].plot(pa_yr, pa_deg, color="black", lw=2.2, zorder=2)
L[4].scatter(pa_obs_yr, pa_obs_deg, s=9, color=OBS_C, lw=0, zorder=3)

LEG_KW = dict(fontsize=9, frameon=True, fancybox=False, framealpha=1.0, edgecolor="#c0c0c0",
              borderpad=0.45, labelspacing=0.38, handlelength=2.0, handletextpad=0.8,
              borderaxespad=0.0, labelcolor="#333333", scatterpoints=3)
leg = L[1].legend([ln_model, sc_fit, sc_hir, sc_obs],
                  ["Precessing Disk Model", "Best Fit H$\\alpha$ Models", "Hirata (2007)", "Observations"],
                  loc="upper right", bbox_to_anchor=(625 / W, 1 - 154 / H),
                  bbox_transform=fig.transFigure, **LEG_KW)
leg.get_frame().set_linewidth(1.0)
leg.set_zorder(10)

# ---------------------------------------------------------------- right column
R = axes[1]
DOT = (0, (1, 0.9))
R[0].axhline(88.5, color="#c8c8c8", lw=1.0, ls=(0, (1, 1.5)), zorder=0.6)
for t in cycle_start:
    ln_ha, = R[0].plot([t + o for o in ramp_off], ramp_deg, color="black", lw=2.2, zorder=2)
    ln_in, = R[0].plot([t + o for o in inner_off], inner_deg, color="black", lw=2.0, ls=DOT, zorder=2)
    R[1].plot([t + o for o in ewc_off], ewc_val, color="black", lw=2.2, zorder=3)
    R[2].plot([t + o for o in mvc_off], mvc_mag, color="black", lw=2.0, ls=DOT, zorder=2)
    R[3].plot([t + o for o in pvc_off], pvc_pct, color="black", lw=2.0, ls=DOT, zorder=2)
    R[4].plot([t + o for o in pac_off], pac_deg, color="black", lw=2.0, ls=DOT, zorder=2)
sc_fit_r = R[0].scatter(fit_right_yr, fit_right_deg, s=38, color="black", lw=0, zorder=4)

sc_obs_r = R[1].scatter(ew_obs_yr, ew_obs_val, s=9, color=OBS_C, lw=0, zorder=2)
R[2].scatter(mv_obs_yr, mv_obs_mag, s=9, color=OBS_C, lw=0, zorder=3)
R[3].scatter(pv_obs_yr, pv_obs_pct, s=9, color=OBS_C, lw=0, zorder=3)
R[4].scatter(pa_obs_yr, pa_obs_deg, s=9, color=OBS_C, lw=0, zorder=3)

leg_r = R[1].legend([ln_ha, ln_in, sc_fit_r, sc_obs_r],
                    ["H$\\alpha$ Emitting Region", "Innermost Disk", "Best Fit H$\\alpha$ Models", "Observed"],
                    loc="upper right", bbox_to_anchor=(1221 / W, 1 - 153 / H),
                    bbox_transform=fig.transFigure, **LEG_KW)
leg_r.get_frame().set_linewidth(1.0)
leg_r.set_zorder(10)

fig.savefig("out.png", dpi=100)
